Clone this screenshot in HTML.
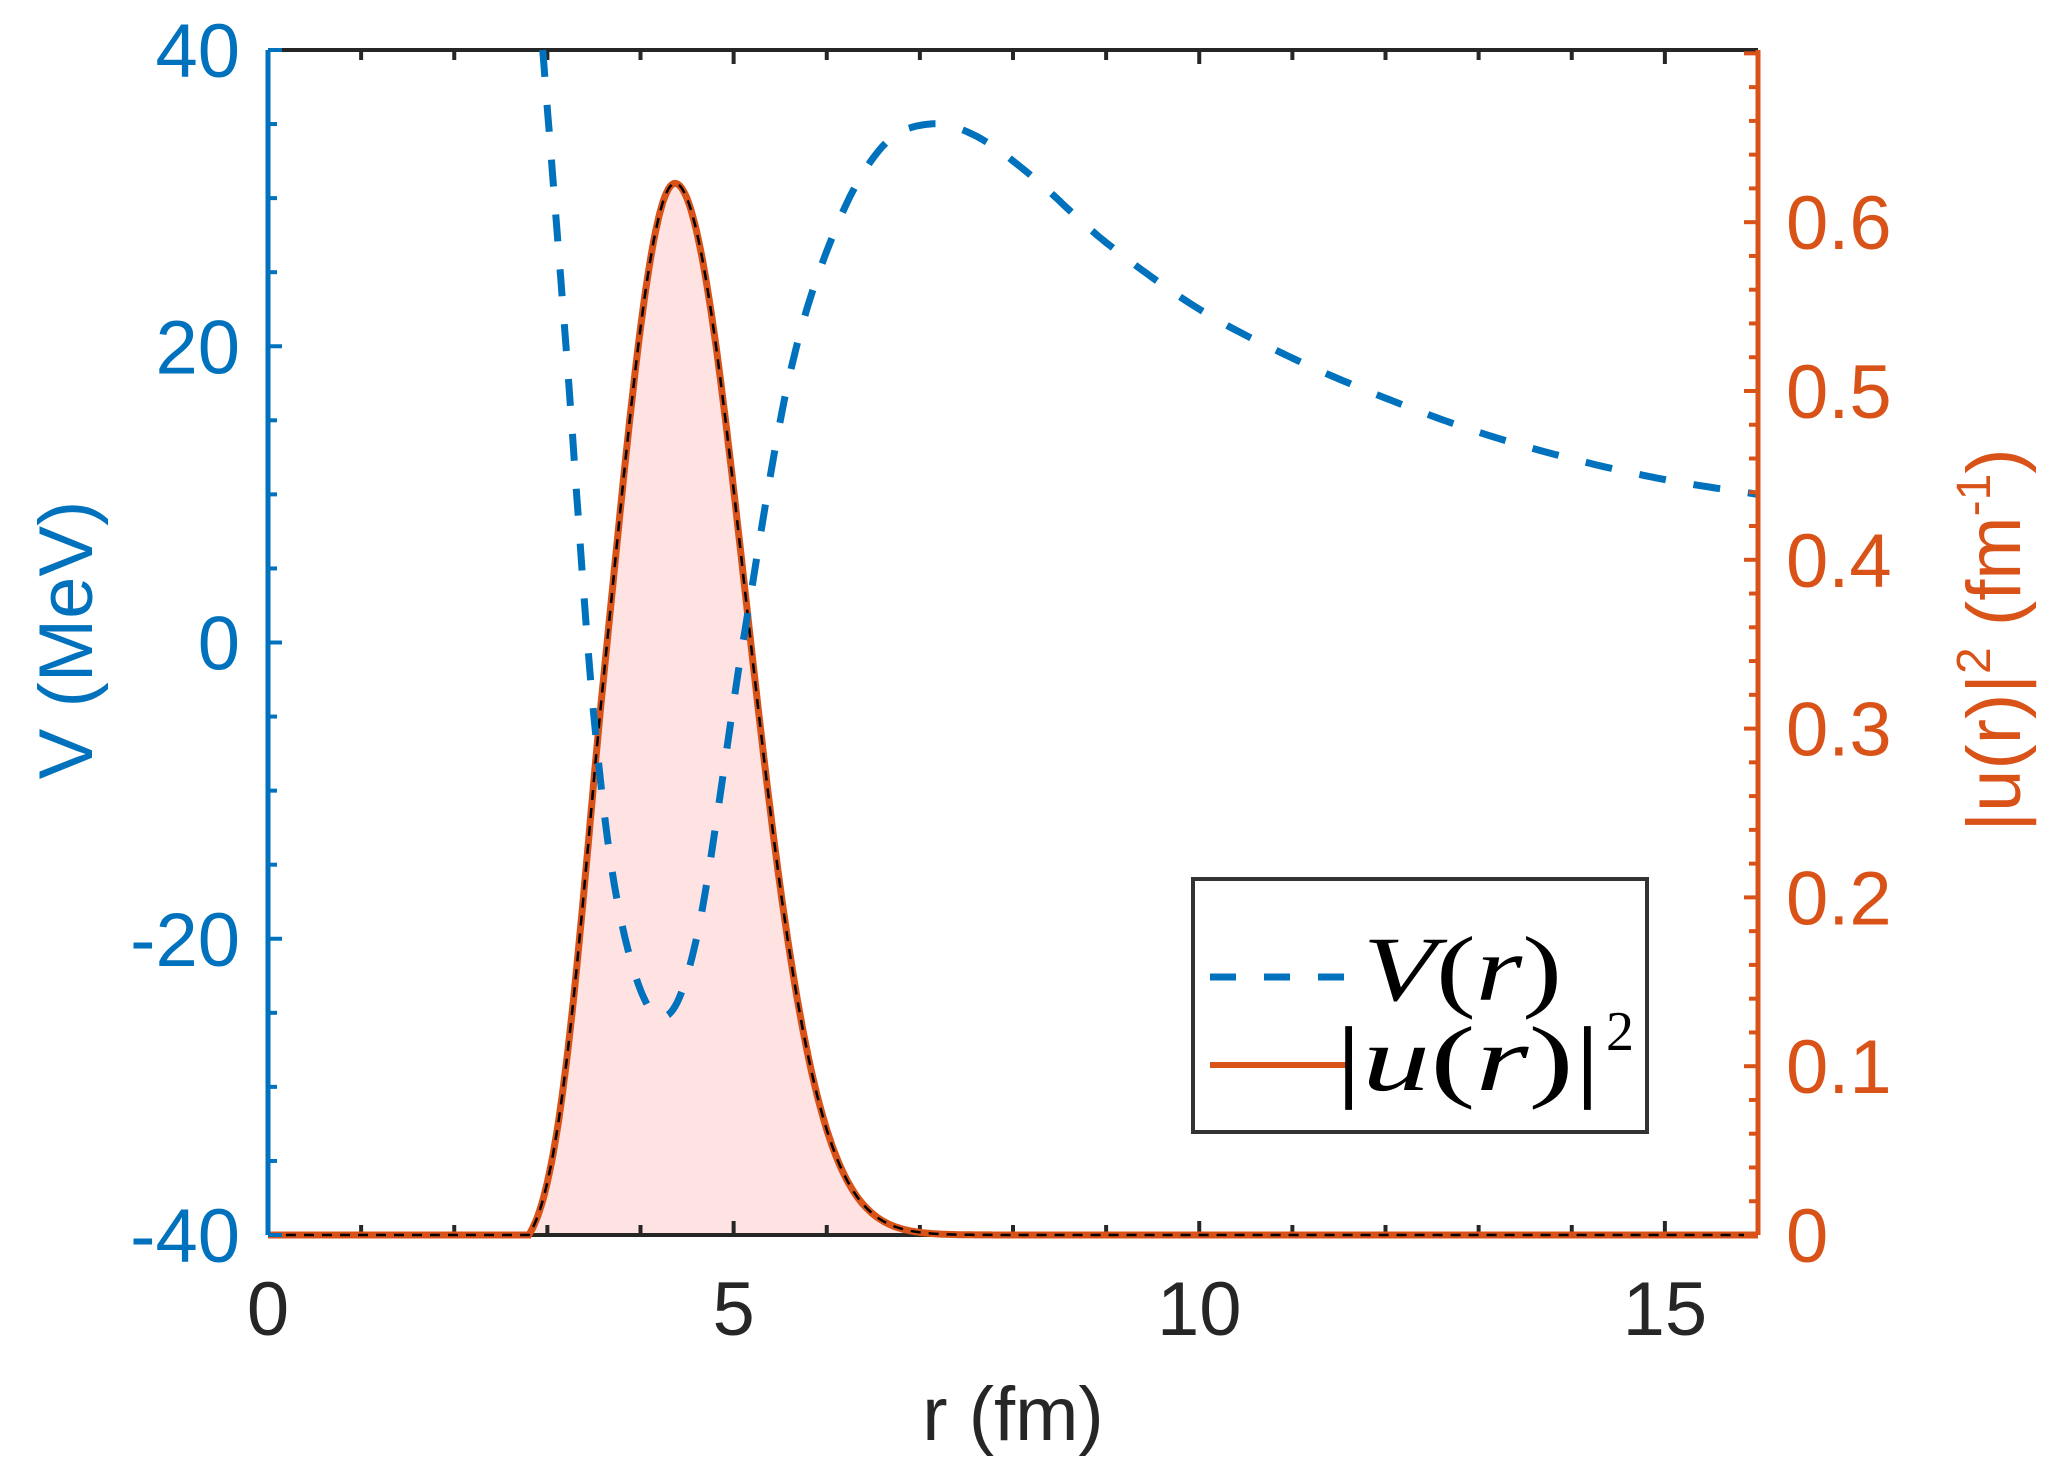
<!DOCTYPE html>
<html><head><meta charset="utf-8"><style>
html,body{margin:0;padding:0;background:#fff;}
svg{display:block;}
</style></head><body>
<svg id="s" width="2049" height="1472" viewBox="0 0 2049 1472" xmlns="http://www.w3.org/2000/svg" font-family="Liberation Sans, Arial, sans-serif">
<rect width="2049" height="1472" fill="#fff"/>
<g id="plot"></g>
<!-- legend -->
<rect x="1193" y="879" width="454" height="253" fill="#fff" stroke="#333" stroke-width="4"/>
<line x1="1210" y1="977" x2="1350" y2="977" stroke="#0072BD" stroke-width="7" stroke-dasharray="26,28"/>
<line x1="1210" y1="1065" x2="1350" y2="1065" stroke="#D95319" stroke-width="6"/>
<text x="1363" y="1000" style="font-family:'Liberation Serif',serif;font-size:92px" fill="#000" textLength="199" lengthAdjust="spacingAndGlyphs"><tspan style="font-style:italic">V</tspan>(<tspan style="font-style:italic">r</tspan>)</text>
<text x="1335" y="1090" style="font-family:'Liberation Serif',serif;font-size:92px" fill="#000" textLength="266" lengthAdjust="spacingAndGlyphs">|<tspan style="font-style:italic">u</tspan>(<tspan style="font-style:italic">r</tspan>)|</text>
<text x="1606" y="1050" style="font-family:'Liberation Serif',serif;font-size:56px" fill="#000">2</text>
<!-- axis labels -->
<text x="1013" y="1440" text-anchor="middle" font-size="76" fill="#262626">r (fm)</text>
<text transform="translate(92,640) rotate(-90)" text-anchor="middle" font-size="76" fill="#0072BD">V (MeV)</text>
<text transform="translate(2020,640) rotate(-90)" text-anchor="middle" font-size="76" fill="#D95319">|u(r)|<tspan dy="-30" font-size="48">2</tspan><tspan dy="30"> (fm</tspan><tspan dy="-30" font-size="48">-1</tspan><tspan dy="30">)</tspan></text>
</svg>
<script>
(function(){
var X0=268,X1=1758,Y0=50,Y1=1235;
function sx(r){return X0+(r/16)*(X1-X0);}
function sv(v){return Y1-(v+40)/80*(Y1-Y0);}
function su(u){return Y1-u/0.702*(Y1-Y0);}
var g=document.getElementById('plot'),h='';
var P=[[2.95,40],[3.2,20],[3.5,-5],[3.8,-19],[4.2,-25.3],[4.6,-20],[5.1,0],[5.6,18],[6.1,28],[6.6,33.5],[7.1,35],[7.6,34.2],[8.2,31.5],[9,27],[10,22.5],[11,19.2],[12,16.5],[13,14.2],[14,12.4],[15,11],[16,10]];
var pts=[];
for(var i=0;i<P.length-1;i++){
 var p0=P[Math.max(0,i-1)],p1=P[i],p2=P[i+1],p3=P[Math.min(P.length-1,i+2)];
 for(var t=0;t<1;t+=0.05){
  var t2=t*t,t3=t2*t;
  var f=function(a,b,c,d){return 0.5*(2*b+(-a+c)*t+(2*a-5*b+4*c-d)*t2+(-a+3*b-3*c+d)*t3);};
  pts.push([f(p0[0],p1[0],p2[0],p3[0]),f(p0[1],p1[1],p2[1],p3[1])]);
 }
}
pts.push(P[P.length-1]);
var vd=pts.map(function(p,i){return (i?'L':'M')+sx(p[0]).toFixed(1)+','+sv(p[1]).toFixed(1);}).join('');
function u(r){ if(r<2.8) return 0; var s=r<4.37?0.68:0.76; var v=0.623*Math.exp(-Math.pow(r-4.37,2)/(2*s*s)); var a=Math.min(1,(r-2.8)/0.8); a=Math.sin(a*Math.PI/2); v*=a; return Math.max(0,v);}
var ud='';
for(var r=0;r<=16.0001;r+=0.02){ud+=(ud?'L':'M')+sx(r).toFixed(1)+','+su(u(r)).toFixed(1);}
var fill=ud+'L'+sx(16)+','+Y1+'L'+sx(0)+','+Y1+'Z';
h+='<path d="'+fill+'" fill="#FFE2E2" stroke="none"/>';
h+='<line x1="'+X0+'" y1="'+Y0+'" x2="'+X1+'" y2="'+Y0+'" stroke="#262626" stroke-width="4"/>';
h+='<line x1="'+X0+'" y1="'+Y1+'" x2="'+X1+'" y2="'+Y1+'" stroke="#262626" stroke-width="4"/>';
for(var k=0;k<=16;k++){var x=sx(k),L=(k%5==0)?14:10;
 h+='<line x1="'+x+'" y1="'+Y0+'" x2="'+x+'" y2="'+(Y0+L)+'" stroke="#262626" stroke-width="4"/>';
 h+='<line x1="'+x+'" y1="'+Y1+'" x2="'+x+'" y2="'+(Y1-L)+'" stroke="#262626" stroke-width="4"/>';
 if(k%5==0) h+='<text x="'+x+'" y="1335" text-anchor="middle" font-size="76" fill="#262626">'+k+'</text>';
}
h+='<path d="'+ud+'" fill="none" stroke="#D95319" stroke-width="7"/>';
h+='<path d="'+ud+'" fill="none" stroke="#000" stroke-width="2.5" stroke-dasharray="10,8"/>';
h+='<path d="'+vd+'" fill="none" stroke="#0072BD" stroke-width="7" stroke-dasharray="27,28"/>';
h+='<line x1="'+X0+'" y1="'+Y0+'" x2="'+X0+'" y2="'+Y1+'" stroke="#0072BD" stroke-width="5"/>';
for(var v=-40;v<=40;v+=5){var y=sv(v),L=(v%20==0)?14:9;
 h+='<line x1="'+X0+'" y1="'+y+'" x2="'+(X0+L)+'" y2="'+y+'" stroke="#0072BD" stroke-width="4"/>';
 if(v%20==0) h+='<text x="240" y="'+(y+27)+'" text-anchor="end" font-size="76" fill="#0072BD">'+v+'</text>';
}
h+='<line x1="'+X1+'" y1="'+Y0+'" x2="'+X1+'" y2="'+Y1+'" stroke="#D95319" stroke-width="5"/>';
for(var j=0;j<=35;j++){var q=j*0.02,y=su(q),L=(j%5==0)?14:9;
 h+='<line x1="'+X1+'" y1="'+y+'" x2="'+(X1-L)+'" y2="'+y+'" stroke="#D95319" stroke-width="4"/>';
 if(j%5==0&&j<=30) h+='<text x="1786" y="'+(y+27)+'" font-size="76" fill="#D95319">'+(j==0?'0':(q.toFixed(1)))+'</text>';
}
g.innerHTML=h;
})();
</script>
</body></html>
